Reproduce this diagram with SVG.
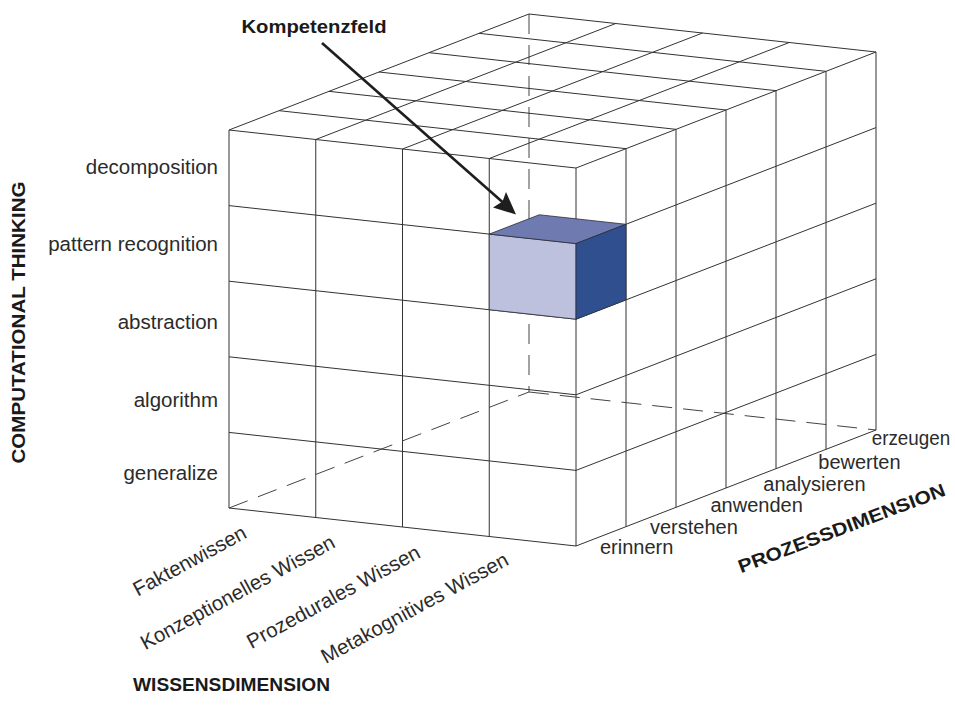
<svg xmlns="http://www.w3.org/2000/svg" width="955" height="706" viewBox="0 0 955 706">
<style>
.g{stroke:#333;stroke-width:1;fill:none}
.d{stroke:#444;stroke-width:1;fill:none;stroke-dasharray:20 11}
.lbl{font-family:"Liberation Sans",Arial,sans-serif;font-size:20.5px;fill:#2b2b2b}
.sm{font-size:20px}
.hd{font-family:"Liberation Sans",Arial,sans-serif;font-size:18.5px;font-weight:bold;fill:#1a1a1a}
.arr{stroke:#1e1e1e;stroke-width:2.6;fill:none}
</style>
<rect width="955" height="706" fill="#fff"/>
<g id="hidden-edges">
<line class="d" x1="229" y1="508" x2="529" y2="392"/>
<line class="d" x1="529" y1="392" x2="876" y2="430"/>
<line class="d" x1="529" y1="14" x2="529" y2="392"/>
</g>
<g id="front-face">
<line class="g" x1="229" y1="130" x2="576" y2="168"/>
<line class="g" x1="229" y1="205.6" x2="576" y2="243.6"/>
<line class="g" x1="229" y1="281.2" x2="576" y2="319.2"/>
<line class="g" x1="229" y1="356.8" x2="576" y2="394.8"/>
<line class="g" x1="229" y1="432.4" x2="576" y2="470.4"/>
<line class="g" x1="229" y1="508" x2="576" y2="546"/>
<line class="g" x1="229" y1="130" x2="229" y2="508"/>
<line class="g" x1="315.75" y1="139.5" x2="315.75" y2="517.5"/>
<line class="g" x1="402.5" y1="149" x2="402.5" y2="527"/>
<line class="g" x1="489.25" y1="158.5" x2="489.25" y2="536.5"/>
<line class="g" x1="576" y1="168" x2="576" y2="546"/>
</g>
<g id="top-face">
<line class="g" x1="279" y1="110.67" x2="626" y2="148.67"/>
<line class="g" x1="329" y1="91.33" x2="676" y2="129.33"/>
<line class="g" x1="379" y1="72" x2="726" y2="110"/>
<line class="g" x1="429" y1="52.67" x2="776" y2="90.67"/>
<line class="g" x1="479" y1="33.33" x2="826" y2="71.33"/>
<line class="g" x1="529" y1="14" x2="876" y2="52"/>
<line class="g" x1="229" y1="130" x2="529" y2="14"/>
<line class="g" x1="315.75" y1="139.5" x2="615.75" y2="23.5"/>
<line class="g" x1="402.5" y1="149" x2="702.5" y2="33"/>
<line class="g" x1="489.25" y1="158.5" x2="789.25" y2="42.5"/>
<line class="g" x1="576" y1="168" x2="876" y2="52"/>
</g>
<g id="right-face">
<line class="g" x1="626" y1="148.67" x2="626" y2="526.67"/>
<line class="g" x1="676" y1="129.33" x2="676" y2="507.33"/>
<line class="g" x1="726" y1="110" x2="726" y2="488"/>
<line class="g" x1="776" y1="90.67" x2="776" y2="468.67"/>
<line class="g" x1="826" y1="71.33" x2="826" y2="449.33"/>
<line class="g" x1="876" y1="52" x2="876" y2="430"/>
<line class="g" x1="576" y1="243.6" x2="876" y2="127.6"/>
<line class="g" x1="576" y1="319.2" x2="876" y2="203.2"/>
<line class="g" x1="576" y1="394.8" x2="876" y2="278.8"/>
<line class="g" x1="576" y1="470.4" x2="876" y2="354.4"/>
<line class="g" x1="576" y1="546" x2="876" y2="430"/>
</g>
<g id="kompetenzfeld-cell" stroke="#2e2e3a" stroke-width="0.8" stroke-linejoin="round">
<polygon points="489.25,234.1 576,243.6 576,319.2 489.25,309.7" fill="#bdc1de"/>
<polygon points="489.25,234.1 576,243.6 626,224.27 539.25,214.77" fill="#6f7bb0"/>
<polygon points="576,243.6 626,224.27 626,299.87 576,319.2" fill="#304f8f"/>
</g>
<g id="connectors">
<line class="arr" x1="322" y1="43" x2="503" y2="202.5"/>
<polygon points="516,214.5 493,207.5 502.5,201.5 506,192" fill="#1e1e1e"/>
</g>
<g id="label-kompetenzfeld">
<text class="hd" x="241.5" y="33.3" textLength="145" lengthAdjust="spacingAndGlyphs">Kompetenzfeld</text>
</g>
<g id="axis-computational-thinking">
<text class="hd" transform="translate(25,463.5) rotate(-90)" x="0" y="0" textLength="282" lengthAdjust="spacingAndGlyphs">COMPUTATIONAL THINKING</text>
<text class="lbl" x="218" y="174" text-anchor="end">decomposition</text>
<text class="lbl" x="218" y="250.5" text-anchor="end">pattern recognition</text>
<text class="lbl" x="218" y="329" text-anchor="end">abstraction</text>
<text class="lbl" x="218" y="406.5" text-anchor="end">algorithm</text>
<text class="lbl" x="218" y="480" text-anchor="end">generalize</text>
</g>
<g id="axis-prozessdimension">
<text class="lbl sm" x="600" y="554">erinnern</text>
<text class="lbl sm" x="650" y="534">verstehen</text>
<text class="lbl sm" x="710.5" y="511.7">anwenden</text>
<text class="lbl sm" x="763.3" y="491">analysieren</text>
<text class="lbl sm" x="818.3" y="469.3">bewerten</text>
<text class="lbl sm" x="871.7" y="445" textLength="78.5" lengthAdjust="spacingAndGlyphs">erzeugen</text>
<text class="hd" transform="translate(741,573.3) rotate(-20.8)" x="0" y="0" textLength="220" lengthAdjust="spacingAndGlyphs">PROZESSDIMENSION</text>
</g>
<g id="axis-wissensdimension">
<text class="lbl" text-anchor="end" transform="translate(248,537) rotate(-28.5)">Faktenwissen</text>
<text class="lbl" text-anchor="end" transform="translate(336.5,546.5) rotate(-28.5)">Konzeptionelles Wissen</text>
<text class="lbl" text-anchor="end" transform="translate(421.7,556.7) rotate(-28.5)">Prozedurales Wissen</text>
<text class="lbl" text-anchor="end" transform="translate(510,564) rotate(-28.5)">Metakognitives Wissen</text>
<text class="hd" x="133" y="691" textLength="197" lengthAdjust="spacingAndGlyphs">WISSENSDIMENSION</text>
</g>
</svg>
